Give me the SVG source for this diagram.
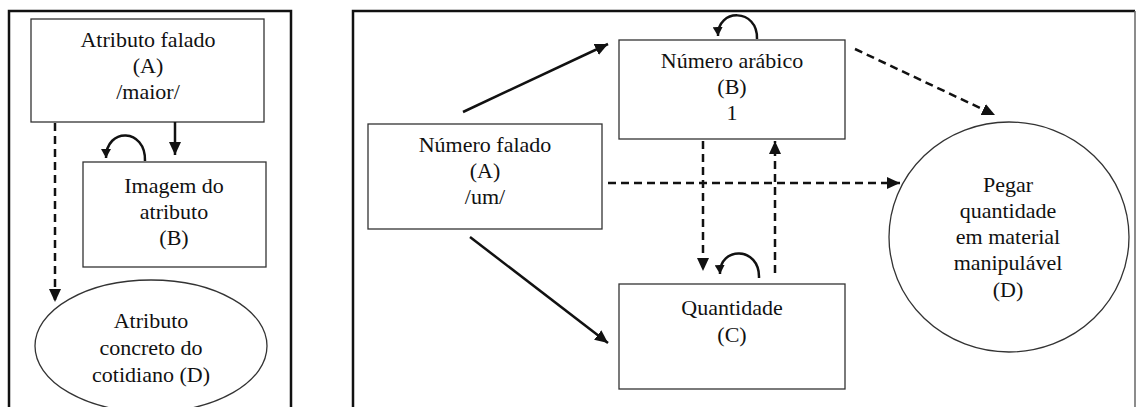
<svg xmlns="http://www.w3.org/2000/svg" width="1138" height="407" viewBox="0 0 1138 407">
<style>
.box{fill:#fff;stroke:#333;stroke-width:1.3}
.frame{fill:none;stroke:#111;stroke-width:2.5}
.t{font-family:"Liberation Serif","Times New Roman",serif;font-size:22px;fill:#111;text-anchor:middle}
.sol{fill:none;stroke:#111;stroke-width:2.5}
.dash{fill:none;stroke:#111;stroke-width:2.5;stroke-dasharray:8 5}
</style>
<defs>
<marker id="ah" markerUnits="userSpaceOnUse" markerWidth="14" markerHeight="12" refX="13" refY="6" orient="auto">
<path d="M0,0 L13,6 L0,12 z" fill="#111"/>
</marker>
<marker id="ahs" markerUnits="userSpaceOnUse" markerWidth="10" markerHeight="10" refX="9" refY="5" orient="auto">
<path d="M0,0 L9,5 L0,10 z" fill="#111"/>
</marker>
</defs>
<rect width="1138" height="407" fill="#fff"/>
<g id="frames">
<path class="frame" d="M9,420 V11 H291 V420"/>
<path class="frame" d="M353,420 V11 H1135"/>
<line x1="1135" y1="11" x2="1135" y2="420" stroke="#666" stroke-width="1.5"/>
</g>
<g id="left-A">
<rect class="box" x="31" y="19" width="233" height="103"/>
<text class="t" x="148" y="47">Atributo falado</text>
<text class="t" x="148" y="73">(A)</text>
<text class="t" x="148" y="99">/maior/</text>
</g>
<g id="left-B">
<rect class="box" x="83" y="162" width="183" height="105"/>
<text class="t" x="174" y="193">Imagem do</text>
<text class="t" x="174" y="219">atributo</text>
<text class="t" x="174" y="245">(B)</text>
</g>
<g id="left-D">
<ellipse class="box" cx="151" cy="346" rx="116" ry="66"/>
<text class="t" x="151" y="328">Atributo</text>
<text class="t" x="151" y="355">concreto do</text>
<text class="t" x="151" y="382">cotidiano (D)</text>
</g>
<g id="right-A">
<rect class="box" x="368" y="124" width="234" height="105"/>
<text class="t" x="485" y="152">Número falado</text>
<text class="t" x="485" y="178">(A)</text>
<text class="t" x="485" y="204">/um/</text>
</g>
<g id="right-B">
<rect class="box" x="619" y="40" width="226" height="99"/>
<text class="t" x="732" y="68">Número arábico</text>
<text class="t" x="732" y="94">(B)</text>
<text class="t" x="732" y="120">1</text>
</g>
<g id="right-C">
<rect class="box" x="619" y="284" width="226" height="105"/>
<text class="t" x="732" y="315">Quantidade</text>
<text class="t" x="732" y="342">(C)</text>
</g>
<g id="right-D">
<ellipse class="box" cx="1009" cy="237" rx="120" ry="115"/>
<text class="t" x="1008" y="192">Pegar</text>
<text class="t" x="1008" y="218">quantidade</text>
<text class="t" x="1008" y="244">em material</text>
<text class="t" x="1008" y="270">manipulável</text>
<text class="t" x="1008" y="297">(D)</text>
</g>
<g id="connectors">
<line class="sol" x1="175" y1="122" x2="175" y2="155" marker-end="url(#ah)"/>
<line class="dash" x1="55" y1="123" x2="55" y2="302" marker-end="url(#ah)"/>
<path class="sol" d="M145,161 C146,128 106,127 106,158" marker-end="url(#ahs)"/>
<line class="sol" x1="463" y1="112" x2="608" y2="44" marker-end="url(#ah)"/>
<line class="sol" x1="470" y1="237" x2="608" y2="343" marker-end="url(#ah)"/>
<line class="dash" x1="608" y1="183" x2="900" y2="183" marker-end="url(#ah)"/>
<line class="dash" x1="703" y1="141" x2="703" y2="271" marker-end="url(#ah)"/>
<line class="dash" x1="775" y1="273" x2="775" y2="141" marker-end="url(#ah)"/>
<line class="dash" x1="855" y1="49" x2="995" y2="115" marker-end="url(#ah)"/>
<path class="sol" d="M757,39 C758,8 717,8 718,36" marker-end="url(#ahs)"/>
<path class="sol" d="M759,278 C760,246 719,246 720,274" marker-end="url(#ahs)"/>
</g>
</svg>
